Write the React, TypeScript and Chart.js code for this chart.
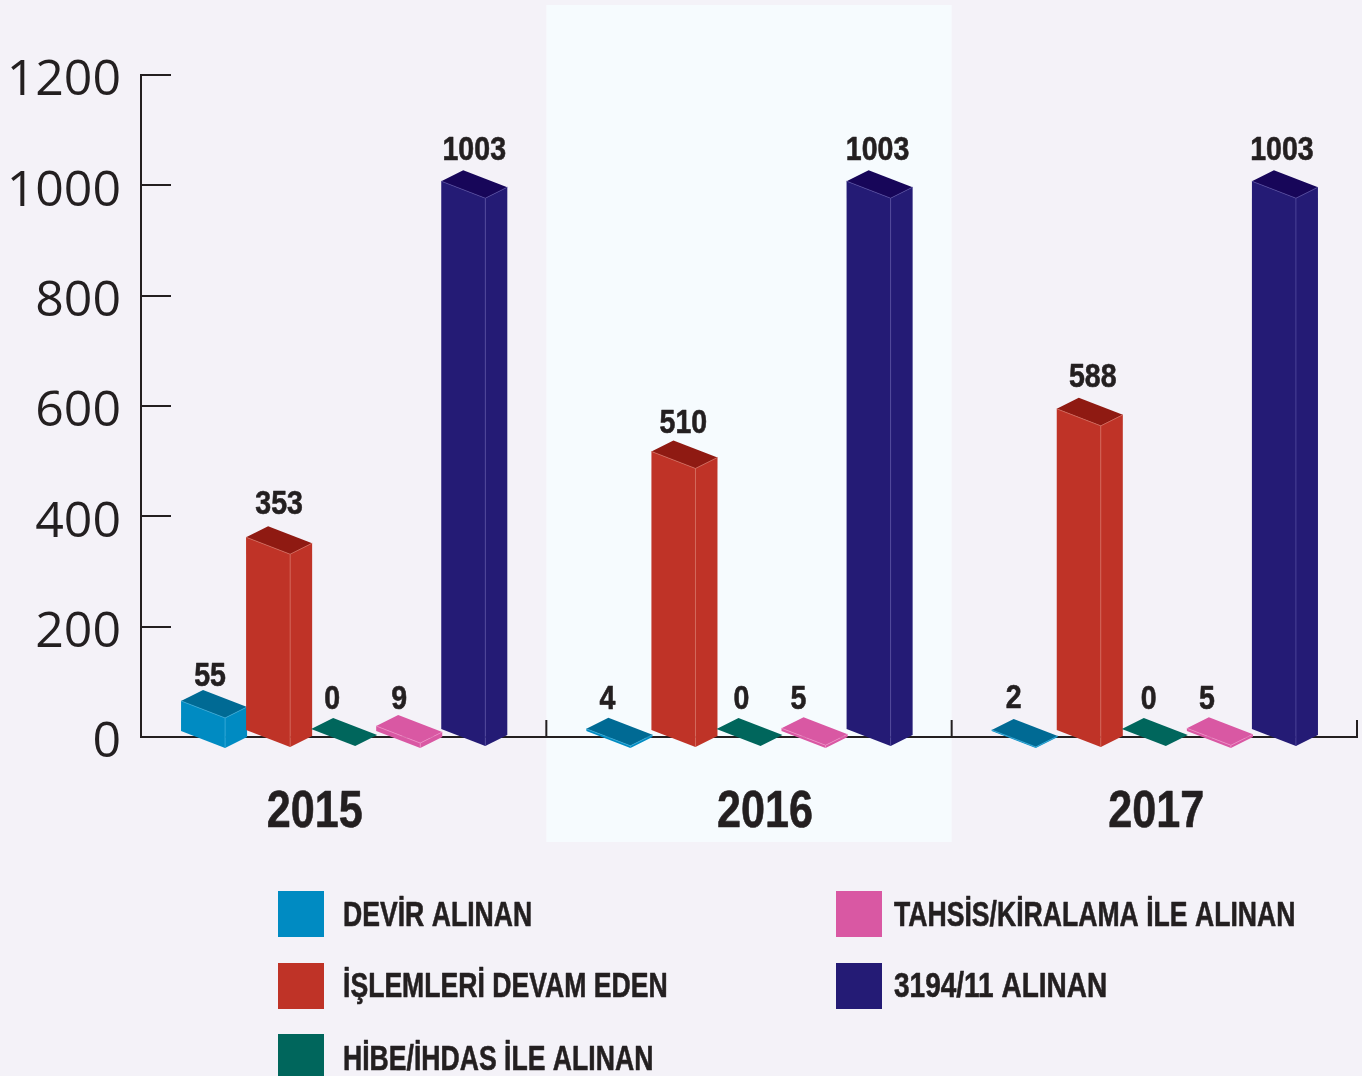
import React, { useEffect, useRef } from "react";
import { Chart, registerables } from "chart.js";

Chart.register(...registerables);

const categories = ["2015", "2016", "2017"];
const devir = [55, 4, 2];
const islemleri = [353, 510, 588];
const hibe = [0, 0, 0];
const tahsis = [9, 5, 5];
const alinan3194 = [1003, 1003, 1003];
const seriesNames = [
  "DEVİR ALINAN",
  "İŞLEMLERİ DEVAM EDEN",
  "HİBE/İHDAS İLE ALINAN",
  "TAHSİS/KİRALAMA İLE ALINAN",
  "3194/11 ALINAN",
];
const seriesValues = [devir, islemleri, hibe, tahsis, alinan3194];

const frontColors = ["#008bc2", "#bf3327", "#00665c", "#d958a3", "#241b75"];
const topColors = ["#006a94", "#8f1a12", "#00665c", "#d958a3", "#170659"];
const seamColors = ["#35a9d8", "#d4695c", "#00665c", "#ee8cc4", "#4f469c"];
const baseNudge = [2, 1, 0, 2, 0];

const INK = "#231f20";
const PAGE = "#f4f2f8";
const PANEL = "#f6fbfe";
const COND = '"Liberation Sans"';

const labelDx = [
  [29, 21, 22],
  [33, 32, 36],
  [21, 25, 27],
  [23, 17, 20],
  [33, 31, 30],
];
const labelDy = [
  [-13, -18, -20],
  [-22, -17, -20],
  [-18, -18, -18],
  [-15, -18, -18],
  [-20, -20, -20],
];
const yearDx = [-29, 16, 2];
const legendSlots = [
  { x: 278, y: 891, tx: 343, ty: 916 },
  { x: 278, y: 963, tx: 343, ty: 987 },
  { x: 278, y: 1034, tx: 343, ty: 1060 },
  { x: 836, y: 891, tx: 894, ty: 916 },
  { x: 836, y: 963, tx: 894, ty: 987 },
];

const poly = (ctx: CanvasRenderingContext2D, pts: number[][], fill: string) => {
  ctx.beginPath();
  pts.forEach((p, i) => (i ? ctx.lineTo(p[0], p[1]) : ctx.moveTo(p[0], p[1])));
  ctx.closePath();
  ctx.fillStyle = fill;
  ctx.fill();
};

const squeezed = (
  ctx: CanvasRenderingContext2D,
  text: string,
  x: number,
  y: number,
  ratio: number
) => {
  ctx.save();
  ctx.translate(x, y);
  ctx.scale(ratio, 1);
  ctx.strokeStyle = INK;
  ctx.lineWidth = 0.6;
  ctx.lineJoin = "round";
  ctx.strokeText(text, 0, 0);
  ctx.fillText(text, 0, 0);
  ctx.restore();
};

const barGeom = (el: any, di: number) => {
  const p = el.getProps(["x", "y", "base", "width"], true);
  const L = p.x - p.width / 2;
  const fw = (p.width * 44) / 65;
  const sw = (p.width * 22) / 65;
  const h = (p.base - p.y) * 0.99;
  return { L, fw, sw, h, yL: p.base - 8 + baseNudge[di], yF: p.base + 9 + baseNudge[di] };
};

const bars3d = {
  id: "bars3d",
  beforeDraw(chart: any) {
    const { ctx, width, height, scales } = chart;
    const x = scales.x;
    const cw = x.width / categories.length;
    ctx.save();
    ctx.fillStyle = PAGE;
    ctx.fillRect(0, 0, width, height);
    ctx.fillStyle = PANEL;
    ctx.fillRect(x.left + cw, 5, cw, 837);
    ctx.restore();
  },
  beforeDatasetDraw() {
    return false;
  },
  beforeDatasetsDraw(chart: any) {
    const { ctx, scales } = chart;
    const x = scales.x;
    const y = scales.y;
    const cw = x.width / categories.length;
    ctx.save();
    ctx.strokeStyle = INK;
    ctx.lineWidth = 2;
    ctx.beginPath();
    y.ticks.forEach((t: any) => {
      if (t.value === 0) return;
      const py = Math.round(y.getPixelForValue(t.value));
      ctx.moveTo(x.left, py);
      ctx.lineTo(x.left + 30, py);
    });
    for (let i = 1; i <= categories.length; i++) {
      const px = x.left + cw * i;
      ctx.moveTo(px, y.bottom);
      ctx.lineTo(px, y.bottom - 17);
    }
    ctx.stroke();

    seriesValues.forEach((_, di) => {
      chart.getDatasetMeta(di).data.forEach((el: any) => {
        const { L, fw, sw, h, yL, yF } = barGeom(el, di);
        const R = L + fw;
        const yR = yF - 11;
        poly(ctx, [[L, yL], [R, yF], [R, yF - h], [L, yL - h]], frontColors[di]);
        poly(ctx, [[R, yF], [R + sw, yR], [R + sw, yR - h], [R, yF - h]], frontColors[di]);
        poly(
          ctx,
          [[L, yL - h], [R, yF - h], [R + sw, yR - h], [L + sw, yL - h - 11]],
          topColors[di]
        );
        if (h > 0) {
          ctx.strokeStyle = seamColors[di];
          ctx.lineWidth = 0.8;
          ctx.beginPath();
          ctx.moveTo(L, yL - h);
          ctx.lineTo(R, yF - h);
          ctx.lineTo(R + sw, yR - h);
          ctx.moveTo(R, yF - h);
          ctx.lineTo(R, yF);
          ctx.stroke();
        }
      });
    });
    ctx.restore();
  },
  afterDatasetsDraw(chart: any) {
    const { ctx, scales } = chart;
    const x = scales.x;
    ctx.save();
    ctx.fillStyle = INK;
    ctx.textAlign = "center";
    ctx.textBaseline = "middle";

    ctx.font = `bold 34px ${COND}`;
    seriesValues.forEach((vals, di) => {
      chart.getDatasetMeta(di).data.forEach((el: any, ci: number) => {
        const { L, h, yL } = barGeom(el, di);
        squeezed(ctx, String(vals[ci]), L + labelDx[di][ci], yL - h - 11 + labelDy[di][ci], 0.84);
      });
    });

    ctx.font = `bold 52px ${COND}`;
    categories.forEach((c, i) => {
      squeezed(ctx, c, x.getPixelForValue(i) + yearDx[i], 813, 0.83);
    });

    ctx.textAlign = "left";
    ctx.font = `bold 35px ${COND}`;
    seriesNames.forEach((name, i) => {
      const s = legendSlots[i];
      ctx.fillStyle = frontColors[i];
      ctx.fillRect(s.x, s.y, 46, 46);
      ctx.fillStyle = INK;
      squeezed(ctx, name, s.tx, s.ty, i === 4 ? 0.8 : 0.76);
    });
    ctx.restore();
  },
};

export default function App() {
  const ref = useRef<HTMLCanvasElement>(null);
  useEffect(() => {
    document.body.style.margin = "0";
    document.body.style.background = PAGE;
    document.body.style.overflow = "hidden";
    const chart = new Chart(ref.current!, {
      type: "bar",
      data: {
        labels: categories,
        datasets: seriesNames.map((label, i) => ({
          label,
          data: seriesValues[i],
          backgroundColor: frontColors[i],
          barPercentage: 1,
          categoryPercentage: 325 / 405,
        })),
      },
      options: {
        responsive: false,
        animation: false,
        layout: { padding: { top: 75, right: 5, left: 0, bottom: 0 } },
        plugins: { legend: { display: false }, tooltip: { enabled: false } },
        scales: {
          x: {
            grid: { display: false, drawTicks: false },
            border: { display: true, color: INK, width: 2 },
            ticks: { display: false },
            afterFit: (s: any) => {
              s.height = 1076 - 737;
            },
          },
          y: {
            min: 0,
            max: 1200,
            grid: { display: false, drawTicks: false },
            border: { display: true, color: INK, width: 2 },
            ticks: {
              stepSize: 200,
              color: INK,
              padding: 20,
              labelOffset: 6,
              callback: (v: any) => String(v),
              font: { family: '"Open Sans"', size: 50, weight: 400 },
            },
            afterFit: (s: any) => {
              s.width = 141;
            },
          },
        },
      },
      plugins: [bars3d],
    } as any);
    return () => chart.destroy();
  }, []);
  return (
    <canvas
      ref={ref}
      width={1362}
      height={1076}
      style={{ display: "block", width: 1362, height: 1076 }}
    />
  );
}
